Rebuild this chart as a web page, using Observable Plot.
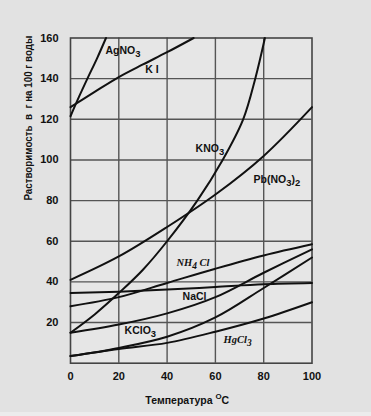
<!DOCTYPE html>
<html><head><meta charset="utf-8">
<script src="https://cdn.jsdelivr.net/npm/d3@7"></script>
<script src="https://cdn.jsdelivr.net/npm/@observablehq/plot@0.6"></script>
<style>
html,body{margin:0;padding:0;background:#ececec;}
#chart svg{display:block;background:#e2e2e2;}
</style></head><body><div id="chart"></div>
<script>
// Temperatures (°C) and solubilities (g per 100 g water)
const agno3T = [0, 3.5, 7, 11, 14.7];
const agno3S = [121.5, 131, 140, 150, 160];
const kiT = [0, 10, 20, 30, 40, 51];
const kiS = [126, 133.5, 140.8, 147, 153, 160];
const kno3T = [0, 10, 20, 30, 40, 52.5, 63, 71.5, 76.5, 80.5];
const kno3S = [15, 24, 34.5, 46, 60, 80, 100, 120, 140, 160];
const tempsStd = [0, 20, 40, 60, 80, 100];
const pbno3S = [41, 52.5, 67, 83, 102, 126];
const nh4clS = [28, 32.5, 39.5, 46.5, 53, 58.5];
const naclS = [34.5, 35.2, 36.2, 37.5, 38.8, 39.4];
const middleS = [15, 19, 24.5, 32.5, 44.5, 56];
const kclo3S = [3.5, 7.5, 13, 22.5, 37, 52];
const hgclS = [3.5, 7, 10, 15.5, 22, 30];

// Tick values
const xTicks = [0, 20, 40, 60, 80, 100];
const yTicks = [20, 40, 60, 80, 100, 120, 140, 160];
const xGrid = [20, 40, 60, 80];
const yGrid = [20, 40, 60, 80, 100, 120, 140];

// Curve labels (anchored in data units)
const sansLabels = ["AgNO_3", "K\u00A0I", "KNO_3", "Pb(NO_3)_2", "NaCl", "KClO_3"];
const sansLabelX = [14.5, 31, 51.8, 75.8, 46.4, 22.4];
const sansLabelY = [153.9, 144.5, 105.6, 90.4, 32.8, 16];
const serifLabels = ["NH_4 Cl", "HgCl_3"];
const serifLabelX = [43.9, 63.4];
const serifLabelY = [49.5, 11.7];

const yTitle = "Растворимость\u00A0\u00A0в\u00A0\u00A0г на 100 г воды";
const xTitle = "Температура ^OC";

function series(name, T, S) { return T.map((t, i) => ({name, t, s: S[i]})); }
const rows = [
  ...series("AgNO3", agno3T, agno3S),
  ...series("KI", kiT, kiS),
  ...series("KNO3", kno3T, kno3S),
  ...series("Pb(NO3)2", tempsStd, pbno3S),
  ...series("NH4Cl", tempsStd, nh4clS),
  ...series("NaCl", tempsStd, naclS),
  ...series("middle", tempsStd, middleS),
  ...series("KClO3", tempsStd, kclo3S),
  ...series("HgCl", tempsStd, hgclS)
];
const sansRows = sansLabels.map((l, i) => ({l, x: sansLabelX[i], y: sansLabelY[i]}));
const serifRows = serifLabels.map((l, i) => ({l, x: serifLabelX[i], y: serifLabelY[i]}));

const sans = "'Liberation Sans', Arial, sans-serif";
const serif = "'Liberation Serif', 'Times New Roman', serif";

const plot = Plot.plot({
  width: 371, height: 412,
  marginLeft: 70, marginRight: 59.5, marginTop: 37.5, marginBottom: 49.3,
  style: {background: "#e2e2e2", fontFamily: sans, color: "#111"},
  x: {domain: [0, 100], axis: null},
  y: {domain: [0, 160], axis: null},
  marks: [
    Plot.frame({fill: "#e6e6e6", stroke: "none"}),
    Plot.ruleX(xGrid, {stroke: "#555", strokeWidth: 1.4}),
    Plot.ruleY(yGrid, {stroke: "#555", strokeWidth: 1.4}),
    Plot.frame({stroke: "#444", strokeWidth: 1.6}),
    Plot.axisX(xTicks, {tickSize: 0, tickPadding: 9, fontWeight: "bold", fontSize: 11, label: null}),
    Plot.axisY(yTicks, {tickSize: 0, tickPadding: 12, fontWeight: "bold", fontSize: 11, label: null}),
    Plot.line(rows, {x: "t", y: "s", z: "name", curve: "catmull-rom", stroke: "#111", strokeWidth: 2}),
    Plot.text(sansRows, {x: "x", y: "y", text: "l", textAnchor: "start", fontWeight: "bold", fontSize: 10.5, fill: "#111"}),
    Plot.text(serifRows, {x: "x", y: "y", text: "l", textAnchor: "start", fontWeight: "bold", fontStyle: "italic", fontFamily: serif, fontSize: 10.5, fill: "#111"}),
    Plot.text([yTitle], {frameAnchor: "left", rotate: -90, dx: -41.5, fontWeight: "bold", fontSize: 10.5, fill: "#111"}),
    Plot.text([xTitle], {frameAnchor: "bottom", dx: -4, dy: 40.3, fontWeight: "bold", fontSize: 10.5, fill: "#111"})
  ]
});
document.getElementById("chart").append(plot);

// Sub/superscripts and title fitting
const NS = "http://www.w3.org/2000/svg";
d3.select(plot).selectAll("text").each(function() {
  const el = this;
  const txt = el.textContent;
  if (txt === yTitle) {
    el.setAttribute("textLength", 165);
    el.setAttribute("lengthAdjust", "spacingAndGlyphs");
    return;
  }
  if (!/[_^]/.test(txt)) return;
  const fs = parseFloat(getComputedStyle(el).fontSize) || 10.5;
  el.textContent = "";
  const parts = txt.split(/([_^].)/).filter(p => p.length);
  let offset = 0; // current vertical offset from baseline
  for (const p of parts) {
    const ts = document.createElementNS(NS, "tspan");
    let target = 0;
    if (p[0] === "_" && p.length === 2) {
      ts.textContent = p[1];
      target = fs * 0.3;
      ts.setAttribute("font-size", (fs * 0.9).toFixed(2));
    } else if (p[0] === "^" && p.length === 2) {
      ts.textContent = p[1];
      target = -fs * 0.4;
      ts.setAttribute("font-size", (fs * 0.75).toFixed(2));
    } else {
      ts.textContent = p;
    }
    const shift = target - offset;
    if (shift !== 0) ts.setAttribute("dy", shift.toFixed(2));
    offset = target;
    el.appendChild(ts);
  }
});
</script></body></html>
